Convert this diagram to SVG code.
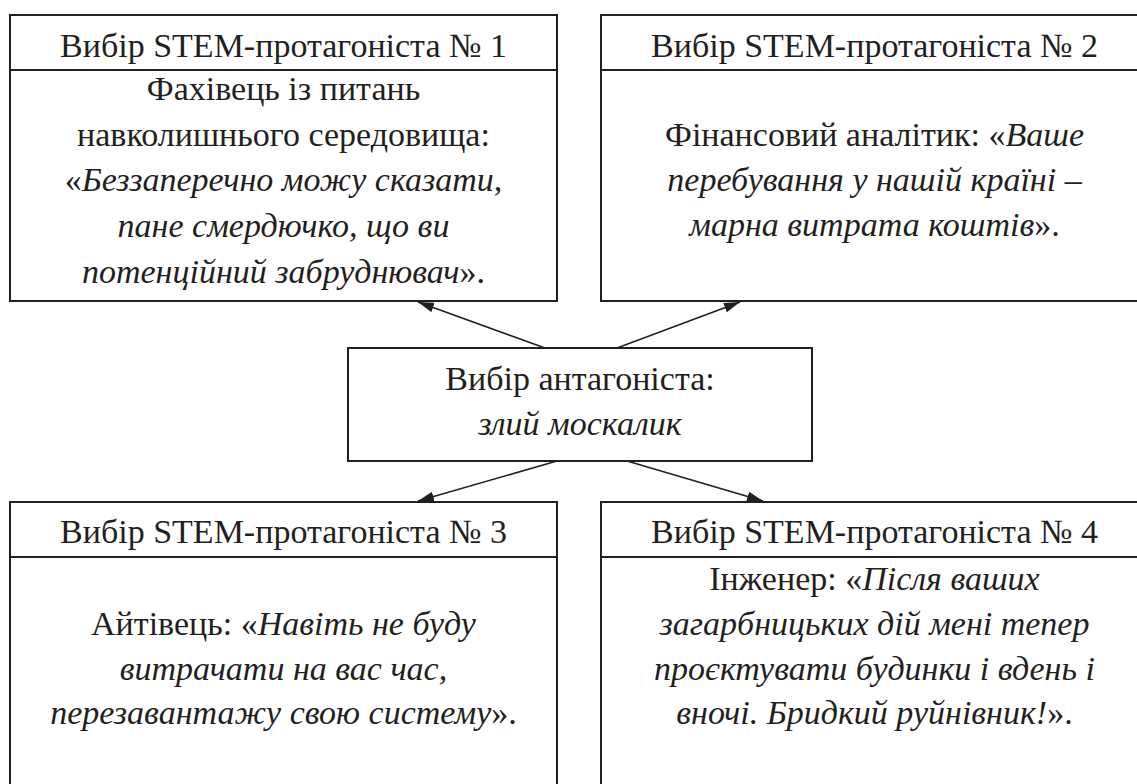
<svg xmlns="http://www.w3.org/2000/svg" width="1137" height="784" viewBox="0 0 1137 784">
<defs>
<style>
.box{fill:#fff;stroke:#231f20;stroke-width:2}
.sep{stroke:#231f20;stroke-width:2}
text{font-family:"Liberation Serif",serif;font-size:34px;fill:#231f20;text-anchor:middle}
.i{font-style:italic}
.con{stroke:#231f20;stroke-width:1.6;fill:none;marker-end:url(#ah)}
</style>
<marker id="ah" viewBox="0 0 16 10" refX="16" refY="5" markerWidth="16" markerHeight="10" markerUnits="userSpaceOnUse" orient="auto">
<path d="M0,0 L16,5 L0,10 Z" fill="#231f20"/>
</marker>
</defs>
<rect width="1137" height="784" fill="#fff"/>
<g id="node-p1">
<rect class="box" x="10" y="15" width="547" height="286"/>
<line class="sep" x1="10" y1="70" x2="557" y2="70"/>
<text x="283.5" y="57">Вибір STEM-протагоніста № 1</text>
<text x="283.5" y="100">Фахівець із питань</text>
<text x="283.5" y="146">навколишнього середовища:</text>
<text x="283.5" y="191">«<tspan class="i">Беззаперечно можу сказати,</tspan></text>
<text class="i" x="283.5" y="237">пане смердючко, що ви</text>
<text x="283.5" y="283"><tspan class="i">потенційний забруднювач</tspan>».</text>
</g>
<g id="node-p2">
<rect class="box" x="601" y="15" width="547" height="286"/>
<line class="sep" x1="601" y1="70" x2="1148" y2="70"/>
<text x="874.5" y="57">Вибір STEM-протагоніста № 2</text>
<text x="874.5" y="146">Фінансовий аналітик: «<tspan class="i">Ваше</tspan></text>
<text class="i" x="874.5" y="191">перебування у нашій країні –</text>
<text x="874.5" y="236"><tspan class="i">марна витрата коштів</tspan>».</text>
</g>
<g id="node-antagonist">
<rect class="box" x="348" y="348" width="464" height="113"/>
<text x="580" y="390">Вибір антагоніста:</text>
<text class="i" x="580" y="435">злий москалик</text>
</g>
<g id="node-p3">
<rect class="box" x="10" y="502" width="547" height="290"/>
<line class="sep" x1="10" y1="557" x2="557" y2="557"/>
<text x="283.5" y="543">Вибір STEM-протагоніста № 3</text>
<text x="283.5" y="635">Айтівець: «<tspan class="i">Навіть не буду</tspan></text>
<text class="i" x="283.5" y="680">витрачати на вас час,</text>
<text x="283.5" y="724"><tspan class="i">перезавантажу свою систему</tspan>».</text>
</g>
<g id="node-p4">
<rect class="box" x="601" y="502" width="547" height="290"/>
<line class="sep" x1="601" y1="557" x2="1148" y2="557"/>
<text x="874.5" y="543">Вибір STEM-протагоніста № 4</text>
<text x="874.5" y="590">Інженер: «<tspan class="i">Після ваших</tspan></text>
<text class="i" x="874.5" y="635">загарбницьких дій мені тепер</text>
<text class="i" x="874.5" y="680">проєктувати будинки і вдень і</text>
<text x="874.5" y="724"><tspan class="i">вночі. Бридкий руйнівник!</tspan>».</text>
</g>
<g id="connectors">
<line class="con" x1="545" y1="348" x2="418" y2="302"/>
<line class="con" x1="617" y1="348" x2="740" y2="302"/>
<line class="con" x1="557" y1="461" x2="418" y2="501"/>
<line class="con" x1="627" y1="461" x2="763" y2="501"/>
</g>
</svg>
